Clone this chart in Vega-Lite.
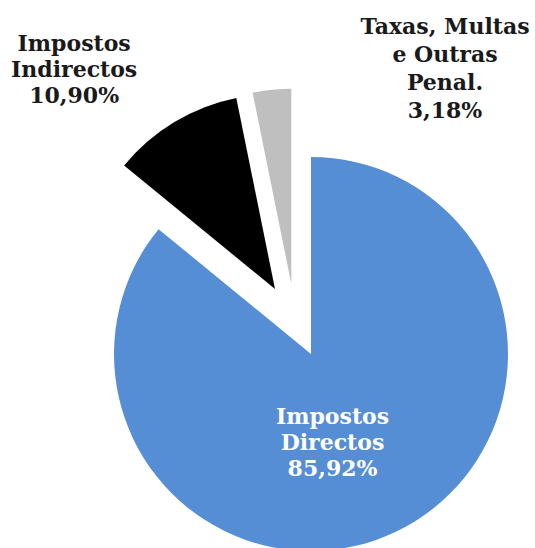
{
  "$schema": "https://vega.github.io/schema/vega-lite/v6.json",
  "width": 535,
  "height": 548,
  "padding": 0,
  "autosize": {"type": "none"},
  "background": "white",
  "config": {"view": {"stroke": null}},
  "data": {
    "values": [
      {"cat": "Impostos Directos", "value": 85.92, "label": "Impostos\nDirectos\n85,92%"},
      {"cat": "Impostos Indirectos", "value": 10.90, "label": "Impostos\nIndirectos\n10,90%"},
      {"cat": "Taxas, Multas e Outras Penal.", "value": 3.18, "label": "Taxas, Multas\ne Outras\nPenal.\n3,18%"}
    ]
  },
  "transform": [
    {"stack": "value", "groupby": [], "sort": [{"field": "value", "order": "descending"}], "as": ["v0", "v1"]}
  ],
  "encoding": {
    "theta": {"field": "v0", "type": "quantitative", "scale": {"domain": [0, 100], "range": [0, 6.283185307179586]}}
  },
  "layer": [
    {
      "transform": [{"filter": "datum.cat === 'Impostos Directos'"}],
      "mark": {"type": "arc", "radius": 197, "xOffset": 43.5, "yOffset": 80, "stroke": null},
      "encoding": {
        "theta2": {"field": "v1"},
        "color": {"field": "cat", "type": "nominal", "legend": null,
          "scale": {"domain": ["Impostos Directos", "Impostos Indirectos", "Taxas, Multas e Outras Penal."], "range": ["#558ED5", "#000000", "#BFBFBF"]}}
      }
    },
    {
      "transform": [{"filter": "datum.cat === 'Impostos Indirectos'"}],
      "mark": {"type": "arc", "radius": 195, "xOffset": 7.5, "yOffset": 15, "stroke": null},
      "encoding": {
        "theta2": {"field": "v1"},
        "color": {"field": "cat", "type": "nominal", "legend": null}
      }
    },
    {
      "transform": [{"filter": "datum.cat === 'Taxas, Multas e Outras Penal.'"}],
      "mark": {"type": "arc", "radius": 195, "xOffset": 23.8, "yOffset": 9.8, "stroke": null},
      "encoding": {
        "theta2": {"field": "v1"},
        "color": {"field": "cat", "type": "nominal", "legend": null}
      }
    },
    {
      "transform": [{"filter": "datum.cat === 'Impostos Directos'"}],
      "mark": {"type": "text", "radius": 0, "xOffset": 43.5, "yOffset": 80, "dx": 21.5, "dy": 63.4,
        "font": "DejaVu Serif", "fontWeight": "bold", "fontSize": 22, "lineHeight": 26, "lineBreak": "\n",
        "align": "center", "baseline": "middle", "color": "#FFFFFF"},
      "encoding": {"text": {"field": "label"}}
    },
    {
      "transform": [{"filter": "datum.cat === 'Impostos Indirectos'"}],
      "mark": {"type": "text", "radius": 294, "xOffset": 7.5, "yOffset": 15, "dx": 26.6, "dy": -58.9,
        "font": "DejaVu Serif", "fontWeight": "bold", "fontSize": 22, "lineHeight": 26, "lineBreak": "\n",
        "align": "center", "baseline": "middle", "color": "#1A1A1A"},
      "encoding": {"text": {"field": "label"}}
    },
    {
      "transform": [{"filter": "datum.cat === 'Taxas, Multas e Outras Penal.'"}],
      "mark": {"type": "text", "radius": 215, "xOffset": 23.8, "yOffset": 9.8, "dx": 153.7, "dy": -42,
        "font": "DejaVu Serif", "fontWeight": "bold", "fontSize": 22, "lineHeight": 28, "lineBreak": "\n",
        "align": "center", "baseline": "middle", "color": "#1A1A1A"},
      "encoding": {"theta": {"field": "v1", "type": "quantitative"}, "text": {"field": "label"}}
    }
  ]
}
